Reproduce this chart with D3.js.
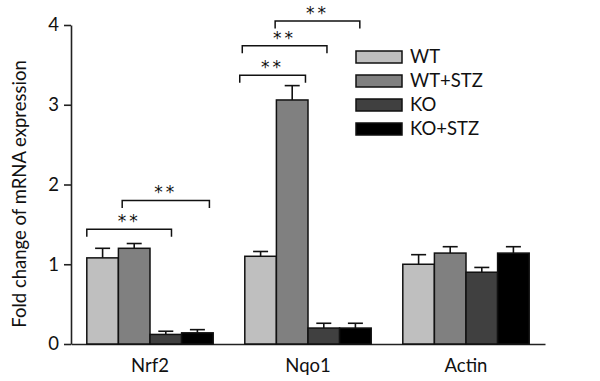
<!DOCTYPE html>
<html lang="en">
<head>
    <meta charset="UTF-8">
    <title>Fold change of mRNA expression</title>
    <script src="https://d3js.org/d3.v7.min.js"></script>
    <style>
        body { margin: 0; background: #fff; }
        svg { display: block; font-family: Lato, sans-serif; }
        .axis path, .axis line { stroke: #222; stroke-width: 1.6px; }
        .axis text { font-size: 18.5px; fill: #111; font-family: Lato, sans-serif; }
        .label { font-size: 18.5px; fill: #111; }
        .stars { font-size: 17px; fill: #111; text-anchor: middle; font-family: "DejaVu Sans", sans-serif; }
    </style>
</head>
<body>
    <svg id="chart" width="600" height="381"></svg>

    <script>
    const genes = ['Nrf2', 'Nqo1', 'Actin'];
    const groups = ['WT', 'WT+STZ', 'KO', 'KO+STZ'];
    const colors = ['#bfbfbf', '#808080', '#404040', '#000000'];

    // mean values per gene, in group order
    const means = [
        [1.08, 1.20, 0.12, 0.14],
        [1.10, 3.06, 0.20, 0.20],
        [1.00, 1.14, 0.90, 1.14]
    ];
    // upper error (SEM)
    const errors = [
        [0.12, 0.06, 0.04, 0.04],
        [0.06, 0.18, 0.06, 0.06],
        [0.12, 0.08, 0.06, 0.08]
    ];
    const yTicks = [0, 1, 2, 3, 4];

    // significance brackets: gene, start/end as fraction of the gene's band, height in data units
    const brackets = [
        {gene: 'Nrf2', from: 0.00, to: 0.67, y: 1.44},
        {gene: 'Nrf2', from: 0.28, to: 0.97, y: 1.80},
        {gene: 'Nqo1', from: -0.04, to: 0.48, y: 3.37},
        {gene: 'Nqo1', from: -0.02, to: 0.65, y: 3.74},
        {gene: 'Nqo1', from: 0.24, to: 0.91, y: 4.05}
    ];

    const svg = d3.select('#chart');

    const x0 = d3.scaleBand()
        .domain(genes)
        .range([71, 545])
        .paddingInner(0.2)
        .paddingOuter(0.1);

    const x1 = d3.scaleBand()
        .domain(groups)
        .range([0, x0.bandwidth()]);

    const y = d3.scaleLinear()
        .domain([0, 4])
        .range([344, 25]);

    const color = d3.scaleOrdinal().domain(groups).range(colors);

    // y axis
    svg.append('g')
        .attr('class', 'axis')
        .attr('transform', 'translate(71,0)')
        .call(d3.axisLeft(y).tickValues(yTicks).tickFormat(d3.format('d'))
            .tickSize(7).tickSizeOuter(0).tickPadding(5));

    // x axis (no ticks)
    svg.append('g')
        .attr('class', 'axis')
        .attr('transform', `translate(0,${y(0)})`)
        .call(d3.axisBottom(x0).tickSize(0).tickSizeOuter(0).tickPadding(15));

    // y label
    svg.append('text')
        .attr('class', 'label')
        .attr('transform', 'translate(26,194) rotate(-90)')
        .attr('text-anchor', 'middle')
        .text('Fold change of mRNA expression');

    const rows = [];
    genes.forEach((g, gi) => {
        groups.forEach((s, si) => {
            rows.push({gene: g, group: s, value: means[gi][si], err: errors[gi][si]});
        });
    });

    const bars = svg.append('g');

    // error bars first so bars cover the stem base
    const eb = bars.selectAll('.err')
        .data(rows)
        .join('g')
        .attr('class', 'err')
        .attr('stroke', '#111')
        .attr('stroke-width', 1.6);

    eb.append('line')
        .attr('x1', d => x0(d.gene) + x1(d.group) + x1.bandwidth() / 2)
        .attr('x2', d => x0(d.gene) + x1(d.group) + x1.bandwidth() / 2)
        .attr('y1', d => y(d.value))
        .attr('y2', d => y(d.value + d.err));

    eb.append('line')
        .attr('x1', d => x0(d.gene) + x1(d.group) + x1.bandwidth() / 2 - 7.5)
        .attr('x2', d => x0(d.gene) + x1(d.group) + x1.bandwidth() / 2 + 7.5)
        .attr('y1', d => y(d.value + d.err))
        .attr('y2', d => y(d.value + d.err));

    bars.selectAll('rect')
        .data(rows)
        .join('rect')
        .attr('x', d => x0(d.gene) + x1(d.group))
        .attr('y', d => y(d.value))
        .attr('width', x1.bandwidth())
        .attr('height', d => y(0) - y(d.value))
        .attr('fill', d => color(d.group))
        .attr('stroke', '#111')
        .attr('stroke-width', 1.5);

    // brackets
    const br = svg.append('g').selectAll('g')
        .data(brackets)
        .join('g');

    br.append('path')
        .attr('fill', 'none')
        .attr('stroke', '#111')
        .attr('stroke-width', 1.5)
        .attr('d', d => {
            const a = x0(d.gene) + d.from * x0.bandwidth();
            const b = x0(d.gene) + d.to * x0.bandwidth();
            const yy = y(d.y);
            return `M${a},${yy + 7.5}V${yy}H${b}V${yy + 7.5}`;
        });

    br.append('text')
        .attr('class', 'stars')
        .attr('x', d => x0(d.gene) + (d.from + d.to) / 2 * x0.bandwidth())
        .attr('y', d => y(d.y) - 2)
        .attr('letter-spacing', 3)
        .text('**');

    // legend
    const legend = svg.append('g')
        .attr('transform', 'translate(356,51)')
        .selectAll('g')
        .data(groups)
        .join('g')
        .attr('transform', (d, i) => `translate(0,${i * 24})`);

    legend.append('rect')
        .attr('width', 46)
        .attr('height', 12)
        .attr('fill', d => color(d))
        .attr('stroke', '#111')
        .attr('stroke-width', 1.5);

    legend.append('text')
        .attr('class', 'label')
        .attr('x', 54)
        .attr('y', 6)
        .attr('dy', '0.35em')
        .text(d => d);
    </script>
</body>
</html>
